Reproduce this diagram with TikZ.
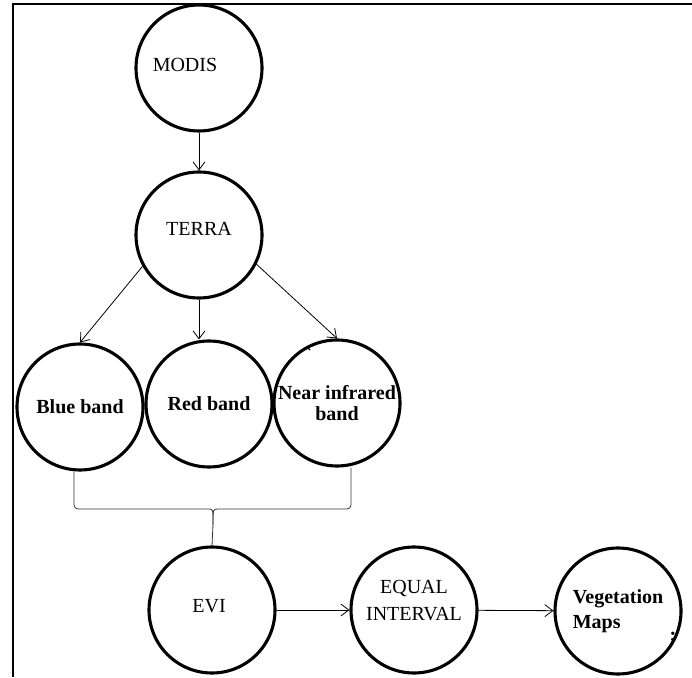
\documentclass[tikz,border=0pt]{standalone}
\usepackage{fontspec}
\setmainfont{Liberation Serif}
\usepackage{tikz}
\usetikzlibrary{arrows.meta, calc}

\begin{document}
\begin{tikzpicture}[x=1pt, y=1pt,
    >={Straight Barb[length=8pt, width=12pt]},
    disc/.style={circle, draw, line width=3.1pt, minimum size=126pt, inner sep=0pt},
    link/.style={->, line width=0.8pt},
    brace/.style={line width=0.8pt, black!80, rounded corners=4pt},
    txt/.style={font=\fontsize{20}{21}\selectfont, align=center},
    btxt/.style={font=\fontsize{20}{21}\selectfont\bfseries, align=center}]
\useasboundingbox (0,0) rectangle (692,677);

% Frame
\draw[line width=2.2pt] (13,0) -- (13,673) -- (692,673);

% Sensor and platform
\node[disc, label={[txt, xshift=-14pt, yshift=3pt]center:MODIS}] (modis) at (199,609) {};
\node[disc, label={[txt, yshift=6pt]center:TERRA}] (terra) at (199,442) {};

% Bands
\node[disc, label={[btxt]center:Blue band}] (blue) at (80,270) {};
\node[disc, label={[btxt]center:Red band}] (red) at (209,273) {};
\node[disc, label={[btxt]center:Near infrared\\band}] (nir) at (337,274) {};

% Index and output
\node[disc, label={[txt, xshift=-3pt, yshift=4pt]center:EVI}] (evi) at (212,67) {};
\node[disc, label={[txt, font=\fontsize{20}{27}\selectfont, yshift=9pt]center:EQUAL\\INTERVAL}] (equal) at (414,67) {};
\node[disc, label={[btxt, font=\fontsize{20}{25}\selectfont\bfseries, align=left]center:Vegetation\\Maps}] (veg) at (618,66) {};
\node[btxt, anchor=base] (semi) at (673,36) {;};

% Arrows
\draw[link] (modis) -- (terra);
\draw[link] (terra.209) -- (blue.north);
\draw[link] (terra.south) -- (terra.south |- red.north);
\draw[link] (terra.333) -- (nir.north);
\draw[link] (evi) -- (equal);
\draw[link] (equal) -- (veg);

% Bracket joining the bands
\coordinate (joint) at (213,168);
\draw[brace] ([xshift=-6pt]blue.south) |- ([xshift=-9pt]joint) .. controls (joint) .. ([yshift=-16pt]joint) -- (evi.north);
\draw[brace] ([xshift=14pt]nir.south) |- ([xshift=9pt]joint) .. controls (joint) .. ([yshift=-16pt]joint);

% Stray mark
\draw[line width=1.2pt] (307,330) -- (310,327);
\end{tikzpicture}
\end{document}
